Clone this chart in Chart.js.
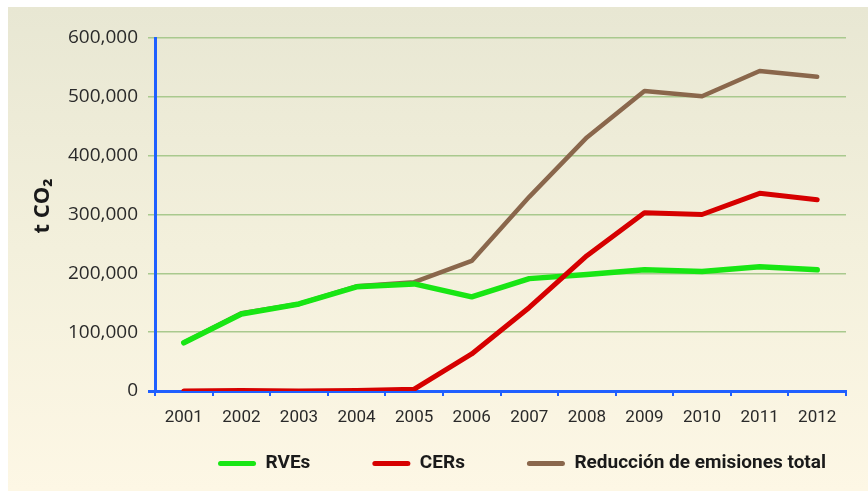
<!DOCTYPE html>
<html>
<head>
<meta charset="utf-8">
<script src="https://cdn.jsdelivr.net/npm/chart.js@4"></script>
<style>
  html, body { margin: 0; padding: 0; background: #fff; }
  #wrap {
    position: absolute; left: 8px; top: 7px; width: 860px; height: 484px;
    background: linear-gradient(to bottom, #e8e7d3 0%, #f3f0dc 50%, #fdf7e5 100%);
  }
</style>
</head>
<body>
<div id="wrap"><canvas id="myChart" width="860" height="484"></canvas></div>
<script>
const years = ['2001', '2002', '2003', '2004', '2005', '2006', '2007', '2008', '2009', '2010', '2011', '2012'];
const rves = [82000, 131000, 148000, 177000, 182000, 160000, 191000, 198000, 206000, 203000, 211000, 206000];
const cers = [0, 1000, 0, 1000, 3000, 63000, 142000, 230000, 303000, 300000, 336000, 325000];
const total = [82000, 132000, 148000, 178000, 185000, 221000, 330000, 431000, 510000, 501000, 544000, 534000];

const blue = '#1f5fff';
const gridGreen = '#a9c98e';

// the legend sits right of centre, and the x labels need room below the thin axis box
const layoutTweak = {
    id: 'layoutTweak',
    afterLayout(chart) {
        const lg = chart.legend;
        if (lg) { lg.left += 95; lg.right += 95; }
        const x = chart.scales.x;
        x.bottom = x.top + 45;
        x.height = 45;
    }
};

const ctx = document.getElementById('myChart');
new Chart(ctx, {
    type: 'line',
    data: {
        labels: years,
        datasets: [
            { label: 'RVEs', data: rves, borderColor: '#18e614', backgroundColor: '#18e614', borderWidth: 5.5, order: 1 },
            { label: 'CERs', data: cers, borderColor: '#d60000', backgroundColor: '#d60000', borderWidth: 5, order: 0 },
            { label: 'Reducción de emisiones total', data: total, borderColor: '#8a674c', backgroundColor: '#8a674c', borderWidth: 4.5, order: 2 }
        ]
    },
    options: {
        responsive: false,
        animation: false,
        layout: { padding: { top: 31, right: 22, bottom: 8, left: 0 } },
        elements: {
            point: { radius: 0 },
            line: { tension: 0, borderCapStyle: 'round', borderJoinStyle: 'round', fill: false }
        },
        plugins: {
            tooltip: { enabled: false },
            legend: {
                position: 'bottom',
                labels: {
                    boxWidth: 38,
                    boxHeight: 5,
                    padding: 62,
                    color: '#1a1a1a',
                    font: { family: "Roboto, sans-serif", weight: 'bold', size: 19 },
                    sort: (a, b) => a.datasetIndex - b.datasetIndex,
                    generateLabels: (chart) => chart.data.datasets.map((ds, i) => ({
                        text: ds.label,
                        fillStyle: ds.borderColor,
                        strokeStyle: ds.borderColor,
                        lineWidth: 0,
                        borderRadius: 2.5,
                        fontColor: '#1a1a1a',
                        datasetIndex: i,
                        hidden: false
                    }))
                }
            }
        },
        scales: {
            x: {
                offset: true,
                afterFit: (scale) => { scale.height = 1; },
                border: { display: true, color: blue, width: 3 },
                grid: { display: true, drawOnChartArea: false, drawTicks: true, tickLength: 5, tickColor: blue, lineWidth: 2, offset: true },
                ticks: {
                    color: '#2a2a2a',
                    padding: 12,
                    maxRotation: 0,
                    autoSkip: false,
                    font: { family: "Roboto, sans-serif", size: 17 }
                }
            },
            y: {
                min: 0,
                max: 600000,
                afterFit: (scale) => { scale.width = 147; },
                border: { display: true, color: blue, width: 3 },
                grid: {
                    color: (c) => (c.tick && c.tick.value === 0 ? blue : gridGreen),
                    tickColor: (c) => (c.tick && c.tick.value === 0 ? blue : gridGreen),
                    lineWidth: (c) => (c.tick && c.tick.value === 0 ? 3 : 1.5),
                    tickLength: 7
                },
                ticks: {
                    stepSize: 100000,
                    padding: 10,
                    color: '#2a2a2a',
                    font: { family: "'Open Sans', sans-serif", size: 19 },
                    callback: (v) => v.toLocaleString('en-US')
                },
                title: {
                    display: true,
                    text: '   t CO₂',
                    color: '#1a1a1a',
                    padding: { top: 22, bottom: 0 },
                    font: { family: "'Open Sans', sans-serif", weight: 'bold', size: 22 }
                }
            }
        }
    },
    plugins: [layoutTweak]
});
</script>
</body>
</html>
